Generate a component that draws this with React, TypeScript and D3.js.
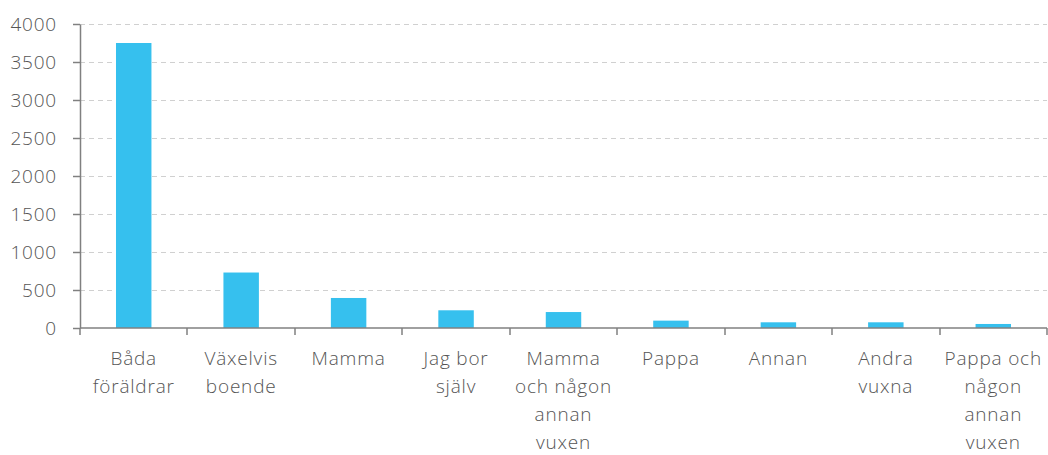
import { useRef, useEffect } from "react"
import * as d3 from "d3"

const categories = [
  "Båda föräldrar",
  "Växelvis boende",
  "Mamma",
  "Jag bor själv",
  "Mamma och någon annan vuxen",
  "Pappa",
  "Annan",
  "Andra vuxna",
  "Pappa och någon annan vuxen",
]
const labelLines = [
  ["Båda", "föräldrar"],
  ["Växelvis", "boende"],
  ["Mamma"],
  ["Jag bor", "själv"],
  ["Mamma", "och någon", "annan", "vuxen"],
  ["Pappa"],
  ["Annan"],
  ["Andra", "vuxna"],
  ["Pappa och", "någon", "annan", "vuxen"],
]
const values = [3750, 730, 395, 233, 210, 97, 75, 75, 53]
const yTicks = [0, 500, 1000, 1500, 2000, 2500, 3000, 3500, 4000]

export default function App() {
  const svgRef = useRef<SVGSVGElement>(null)

  useEffect(() => {
    if (!svgRef.current) return
    const svg = d3.select(svgRef.current)
    svg.selectAll("*").remove()

    const width = 1048
    const height = 455
    const margin = { top: 24, right: 1, bottom: 127, left: 80 }
    const font = "'Open Sans', Lato, sans-serif"
    const textColor = "#555555"
    const axisColor = "#808080"

    const x = d3
      .scaleBand()
      .domain(categories)
      .range([margin.left, width - margin.right])
      .paddingInner(0.67)
      .paddingOuter(0.335)

    const y = d3
      .scaleLinear()
      .domain([0, 4000])
      .range([height - margin.bottom, margin.top])

    // grid lines
    svg
      .append("g")
      .selectAll("line")
      .data(yTicks.filter((t) => t > 0))
      .join("line")
      .attr("x1", margin.left)
      .attr("x2", width - margin.right)
      .attr("y1", (d) => Math.round(y(d)) + 0.5)
      .attr("y2", (d) => Math.round(y(d)) + 0.5)
      .attr("stroke", "#d0d0d0")
      .attr("stroke-width", 1)
      .attr("stroke-dasharray", "5,4")

    // bars
    svg
      .append("g")
      .selectAll("rect")
      .data(values)
      .join("rect")
      .attr("x", (_, i) => x(categories[i])!)
      .attr("width", x.bandwidth())
      .attr("y", (d) => y(d))
      .attr("height", (d) => y(0) - y(d))
      .attr("fill", "#36c0ee")

    // y axis
    const yAxis = svg
      .append("g")
      .attr("transform", `translate(${margin.left},0)`)
      .call(
        d3
          .axisLeft(y)
          .tickValues(yTicks)
          .tickFormat(d3.format("d"))
          .tickSize(7)
          .tickPadding(16)
          .tickSizeOuter(0),
      )
    yAxis.select(".domain").attr("stroke", axisColor).attr("stroke-width", 1.5)
    yAxis.selectAll(".tick line").attr("stroke", axisColor).attr("stroke-width", 1.5)
    yAxis
      .selectAll(".tick text")
      .attr("fill", textColor)
      .attr("font-family", font)
      .attr("font-weight", 300)
      .attr("font-size", 19)
      .attr("letter-spacing", "0.8px")

    // x axis baseline and ticks at band boundaries
    const step = x.step()
    const boundaries = d3.range(categories.length + 1).map((i) => margin.left + i * step)
    svg
      .append("line")
      .attr("x1", margin.left)
      .attr("x2", width - margin.right)
      .attr("y1", y(0))
      .attr("y2", y(0))
      .attr("stroke", axisColor)
      .attr("stroke-width", 1.5)
    svg
      .append("g")
      .selectAll("line")
      .data(boundaries)
      .join("line")
      .attr("x1", (d) => Math.round(d))
      .attr("x2", (d) => Math.round(d))
      .attr("y1", y(0))
      .attr("y2", y(0) + 7)
      .attr("stroke", axisColor)
      .attr("stroke-width", 1.5)

    // category labels
    const labels = svg
      .append("g")
      .selectAll("text")
      .data(categories)
      .join("text")
      .attr("text-anchor", "middle")
      .attr("fill", textColor)
      .attr("font-family", font)
      .attr("font-weight", 300)
      .attr("font-size", 19)
      .attr("letter-spacing", "0.8px")
      .attr("x", (d) => x(d)! + x.bandwidth() / 2)
      .attr("y", 365)

    labels
      .selectAll("tspan")
      .data((_, i) => labelLines[i])
      .join("tspan")
      .attr("x", function () {
        return (this.parentNode as SVGTextElement).getAttribute("x")
      })
      .attr("dy", (_, j) => (j === 0 ? 0 : 28))
      .text((d) => d)
  }, [])

  return (
    <svg
      ref={svgRef}
      width={1048}
      height={455}
      style={{ position: "absolute", left: 0, top: 0, background: "#fff" }}
    />
  )
}
